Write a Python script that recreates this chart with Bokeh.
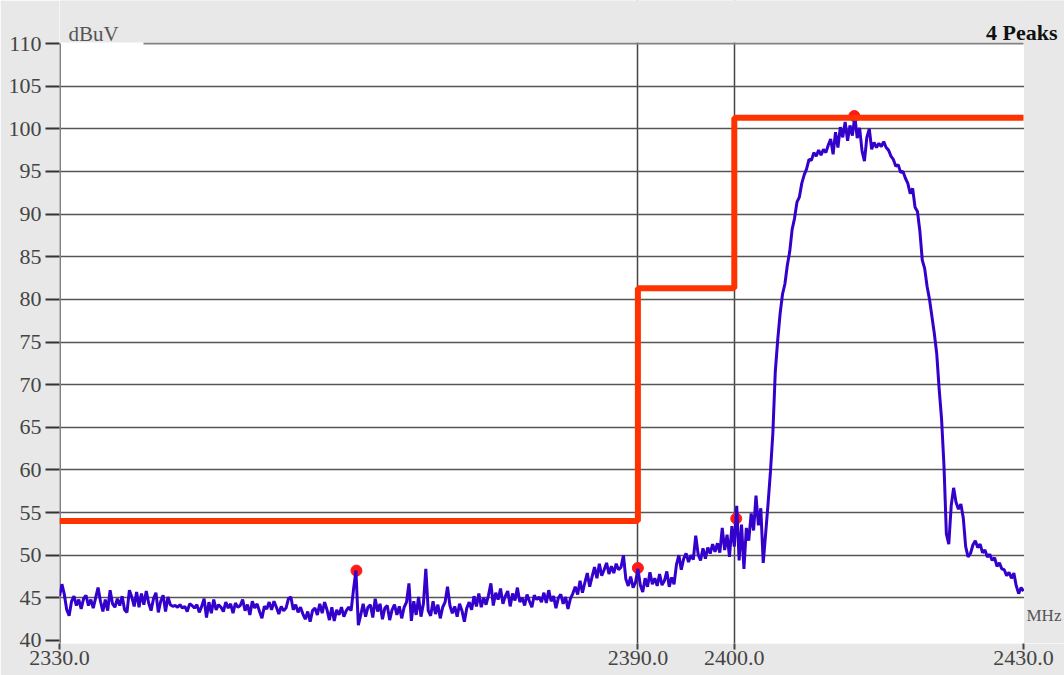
import numpy as np
from bokeh.plotting import figure
from bokeh.models import FixedTicker, PrintfTickFormatter, Label, Range1d, BoxAnnotation
from bokeh.embed import file_html
from bokeh.resources import INLINE

# ---------------- data ----------------
freq_start = 2330.0
freq_stop = 2430.0
level_min = 40.0
level_max = 110.0

# measured level (dBuV), one reading every 0.25 MHz from 2330.0 to 2430.0
level_dbuv = [
    45.2, 46.6, 45.4, 43.6, 42.9, 44.6, 45.2, 44.1, 44.8, 43.7, 44.9, 45.3, 44.1, 44.8, 43.8, 45.0,  # 2330-2333
    46.2, 44.6, 43.4, 44.8, 43.5, 45.9, 44.3, 43.9, 44.9, 44.1, 45.2, 43.6, 43.3, 45.9, 45.1, 44.0,  # 2334-2337
    45.7, 43.9, 45.5, 44.2, 45.8, 44.4, 43.5, 44.9, 45.6, 43.3, 44.6, 45.3, 43.4, 45.1, 44.2, 44.0,  # 2338-2341
    44.1, 43.9, 44.2, 43.8, 44.0, 43.4, 44.3, 44.1, 43.8, 44.2, 43.3, 44.0, 44.9, 42.7, 44.5, 43.2,  # 2342-2345
    44.8, 43.6, 44.2, 43.9, 43.4, 44.5, 43.8, 44.3, 43.2, 44.4, 43.9, 44.1, 44.8, 43.5, 44.2, 43.0,  # 2346-2349
    44.6, 43.8, 44.3, 43.4, 42.6, 44.0, 43.7, 44.5, 43.6, 44.6, 43.9, 43.1, 44.0, 43.5, 43.8, 44.9,  # 2350-2353
    45.1, 43.6, 44.2, 43.3, 43.9, 43.1, 42.5, 43.4, 42.2, 43.5, 43.8, 43.0, 44.3, 43.2, 44.5, 43.6,  # 2354-2357
    42.4, 43.9, 42.3, 43.6, 43.0, 43.9, 42.8, 43.5, 43.9, 43.5, 46.0, 48.2, 41.8, 43.0, 44.3, 42.8,  # 2358-2361
    43.9, 44.2, 42.7, 44.9, 43.4, 44.3, 42.5, 43.8, 44.1, 42.4, 43.6, 44.2, 43.0, 44.0, 42.6, 43.9,  # 2362-2365
    44.5, 46.7, 42.3, 44.6, 43.0, 45.1, 42.8, 44.3, 48.4, 43.5, 42.9, 44.6, 43.1, 44.2, 42.6, 43.9,  # 2366-2369
    44.5, 46.3, 44.1, 43.2, 44.0, 42.8, 44.3, 43.5, 42.2, 43.8, 44.5, 43.6, 45.2, 44.0, 45.5, 43.9,  # 2370-2373
    45.0, 44.2, 45.3, 46.7, 44.1, 45.6, 44.8, 46.1, 44.3, 45.2, 45.8, 44.0, 45.5, 44.7, 46.2, 44.5,  # 2374-2377
    45.0, 44.1, 45.4, 44.6, 43.9, 45.3, 44.8, 45.1, 44.5, 45.6, 44.4, 45.9, 44.6, 45.2, 43.8, 45.0,  # 2378-2381
    45.4, 44.3, 45.1, 43.7, 44.9, 45.5, 46.3, 45.4, 47.0, 45.6, 46.8, 47.9, 46.3, 47.5, 48.6, 47.3,  # 2382-2385
    49.0, 47.6, 48.3, 49.1, 47.8, 48.7, 47.9, 49.0, 48.3, 48.6, 50.0, 47.2, 46.4, 47.5, 46.2, 46.8,  # 2386-2389
    48.4, 46.5, 45.7, 47.3, 46.3, 48.0, 46.6, 47.3, 46.4, 47.8, 46.5, 47.0, 48.1, 46.3, 47.4, 46.6,  # 2390-2393
    48.9, 50.0, 48.3, 49.6, 50.2, 49.2, 50.0, 49.5, 52.3, 50.1, 49.4, 50.8, 49.6, 50.9, 50.2, 51.3,  # 2394-2397
    50.4, 51.4, 50.3, 53.2, 50.6, 52.4, 49.8, 53.4, 51.0, 55.8, 49.4, 53.6, 48.4, 53.2, 51.7, 54.9,  # 2398-2401
    52.9, 57.0, 53.5, 55.5, 49.1, 52.5, 56.0, 59.8, 64.3, 71.5, 75.2, 78.3, 80.6, 81.8, 84.0, 85.6,  # 2402-2405
    88.2, 89.5, 91.4, 92.0, 93.6, 94.6, 95.3, 96.4, 96.3, 97.2, 96.8, 97.5, 96.9, 97.6, 97.2, 98.1,  # 2406-2409
    98.8, 97.0, 99.6, 97.8, 100.2, 99.0, 100.8, 98.6, 100.4, 99.2, 101.5, 98.9, 100.1, 97.4, 96.2, 99.0,  # 2410-2413
    100.0, 97.6, 98.4, 97.8, 98.3, 97.9, 98.5, 97.8, 97.5, 96.8, 96.4, 95.6, 95.8, 94.9, 95.0, 94.2,  # 2414-2417
    93.6, 92.4, 93.0, 90.8, 90.3, 88.0, 84.6, 83.6, 81.5, 80.0, 78.0, 76.0, 73.6, 69.5, 66.0, 60.5,  # 2418-2421
    52.5, 51.3, 55.8, 57.9, 56.2, 55.4, 56.0, 54.4, 51.0, 49.8, 50.2, 51.2, 51.7, 50.9, 51.3, 50.3,  # 2422-2425
    50.6, 49.8, 50.1, 49.4, 49.7, 48.7, 49.1, 48.4, 48.3, 47.6, 48.0, 47.3, 47.9, 46.4, 45.5, 46.2,  # 2426-2429
    45.8,                                                                                                # 2430
]
freqs = np.linspace(freq_start, freq_stop, len(level_dbuv))

# limit line (dBuV)
limit_freq = [2330.0, 2390.0, 2390.0, 2400.0, 2400.0, 2430.0]
limit_level = [54.0, 54.0, 81.3, 81.3, 101.3, 101.3]

# marked peaks
peak_freq = [2360.8, 2390.0, 2400.2, 2412.45]
peak_level = [48.2, 48.5, 54.3, 101.5]

x_ticks = [2330, 2390, 2400, 2430]
x_grid = [2390, 2400]
y_ticks = list(range(40, 111, 5))
y_grid = list(range(45, 106, 5))

# ---------------- layout constants ----------------
W, H = 1064, 675
BORDER_LEFT, BORDER_BOTTOM = 59, 32
PX_PER_MHZ = 9.64
PX_PER_DB = 8.528
x_end = freq_stop + (W - BORDER_LEFT - (freq_stop - freq_start) * PX_PER_MHZ) / PX_PER_MHZ
y_start = level_min - 3 / PX_PER_DB
y_end = level_max + 43 / PX_PER_DB
top_line_start = freq_start + 84 / PX_PER_MHZ

SERIF = "Liberation Serif"
GRAY_BG = "#e8e8e8"

# ---------------- figure ----------------
p = figure(width=W, height=H, output_backend="svg", toolbar_location=None, title=None,
           x_range=Range1d(freq_start, x_end), y_range=Range1d(y_start, y_end),
           min_border=0, min_border_left=BORDER_LEFT, min_border_bottom=BORDER_BOTTOM,
           min_border_top=0, min_border_right=0)
p.border_fill_color = GRAY_BG
p.background_fill_color = "white"
p.outline_line_color = None

yax = p.yaxis[0]
yax.ticker = FixedTicker(ticks=y_ticks)
yax.axis_line_color = None
yax.major_tick_out = 14
yax.major_tick_in = 0
yax.major_tick_line_color = "#333333"
yax.major_tick_line_width = 2
yax.minor_tick_line_color = None
yax.major_label_standoff = 4
yax.major_label_text_font = SERIF
yax.major_label_text_font_size = "22px"
yax.major_label_text_color = "#444444"

xax = p.xaxis[0]
xax.ticker = FixedTicker(ticks=x_ticks)
xax.formatter = PrintfTickFormatter(format="%.1f")
xax.axis_line_color = None
xax.major_tick_out = 6
xax.major_tick_in = 0
xax.major_tick_line_color = "#444444"
xax.major_tick_line_width = 2
xax.minor_tick_line_color = None
xax.major_label_standoff = 1
xax.major_label_text_font = SERIF
xax.major_label_text_font_size = "22px"
xax.major_label_text_color = "#444444"

p.xgrid.ticker = FixedTicker(ticks=x_grid)
p.xgrid.grid_line_color = "#444444"
p.xgrid.grid_line_width = 1.5
p.ygrid.ticker = FixedTicker(ticks=y_grid)
p.ygrid.grid_line_color = "#555555"
p.ygrid.grid_line_width = 1.5

# top line at 110 and left axis line
p.segment(x0=[top_line_start], y0=[level_max], x1=[freq_stop], y1=[level_max],
          line_color="#808080", line_width=2)
p.segment(x0=[freq_start], y0=[y_start], x1=[freq_start], y1=[level_max],
          line_color="#808080", line_width=3)

# peaks, trace, limit
p.scatter(peak_freq, peak_level, size=11, color="#ff1a1a")
p.line(freqs, level_dbuv, line_color="#3300cc", line_width=3)
p.line(limit_freq, limit_level, line_color="#ff3300", line_width=6)

# gray header strip and right strip
p.add_layout(BoxAnnotation(bottom=level_max + 0.12, top=y_end + 2, fill_color=GRAY_BG,
                           fill_alpha=1.0, line_color=None))
p.add_layout(BoxAnnotation(left=freq_stop + 0.05, right=x_end + 2, fill_color=GRAY_BG,
                           fill_alpha=1.0, line_color=None))

p.add_layout(Label(x=freq_start + 9 / PX_PER_MHZ, y=level_max + 10 / PX_PER_DB, text="dBuV",
                   text_font=SERIF, text_font_size="21px", text_color="#555555",
                   text_baseline="alphabetic"))
p.add_layout(Label(x=freq_stop + 34 / PX_PER_MHZ, y=level_max + 11 / PX_PER_DB, text="4 Peaks",
                   text_font=SERIF, text_font_size="22px", text_font_style="bold",
                   text_color="#111111", text_align="right", text_baseline="alphabetic"))
p.add_layout(Label(x=freq_stop + 3 / PX_PER_MHZ, y=level_min + 25 / PX_PER_DB, text="MHz",
                   text_font=SERIF, text_font_size="17px", text_color="#555555",
                   text_baseline="middle"))

open("out.html", "w").write(file_html(p, INLINE))
